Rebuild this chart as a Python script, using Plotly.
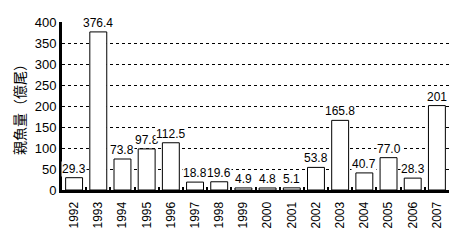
import plotly.graph_objects as go

years = ["1992","1993","1994","1995","1996","1997","1998","1999","2000","2001","2002","2003","2004","2005","2006","2007"]
values = [29.3, 376.4, 73.8, 97.8, 112.5, 18.8, 19.6, 4.9, 4.8, 5.1, 53.8, 165.8, 40.7, 77.0, 28.3, 201]
labels = ["29.3","376.4","73.8","97.8","112.5","18.8","19.6","4.9","4.8","5.1","53.8","165.8","40.7","77.0","28.3","201"]
y_ticks = [0, 50, 100, 150, 200, 250, 300, 350, 400]

FONT = "Liberation Sans Narrow, Arial Narrow, Liberation Sans, sans-serif"

fig = go.Figure()
fig.add_trace(go.Bar(
    x=years, y=values,
    marker=dict(color="white", line=dict(color="black", width=1)),
    width=0.7,
))
for i, (v, lab) in enumerate(zip(values, labels)):
    fig.add_annotation(x=i, y=v, text=lab, showarrow=False, yanchor="bottom",
                       yshift=1, bgcolor="white", borderpad=0,
                       font=dict(family=FONT, size=12, color="black"))

fig.update_layout(
    width=460, height=240,
    margin=dict(l=62, r=11, t=22, b=46),
    plot_bgcolor="white", paper_bgcolor="white",
    showlegend=False,
    font=dict(family=FONT, size=12, color="black"),
    xaxis=dict(
        type="category", tickangle=-90, showgrid=False,
        range=[-0.5, len(years) - 0.5],
        showline=True, linecolor="black", linewidth=3,
        ticks="inside", ticklen=3, tickwidth=2, tickcolor="black",
        tickson="boundaries", ticklabelstandoff=4,
        tickfont=dict(family=FONT, size=12),
    ),
    yaxis=dict(
        range=[0, 400], tickvals=y_ticks, showgrid=True,
        gridcolor="black", griddash="3px,3px", gridwidth=1,
        showline=True, linecolor="black", linewidth=3,
        ticks="", zeroline=False,
        tickfont=dict(family=FONT, size=13),
        title=dict(text="親魚量（億尾）", font=dict(family="Noto Sans CJK JP", size=14), standoff=6),
    ),
)
fig.write_html("out.html")
